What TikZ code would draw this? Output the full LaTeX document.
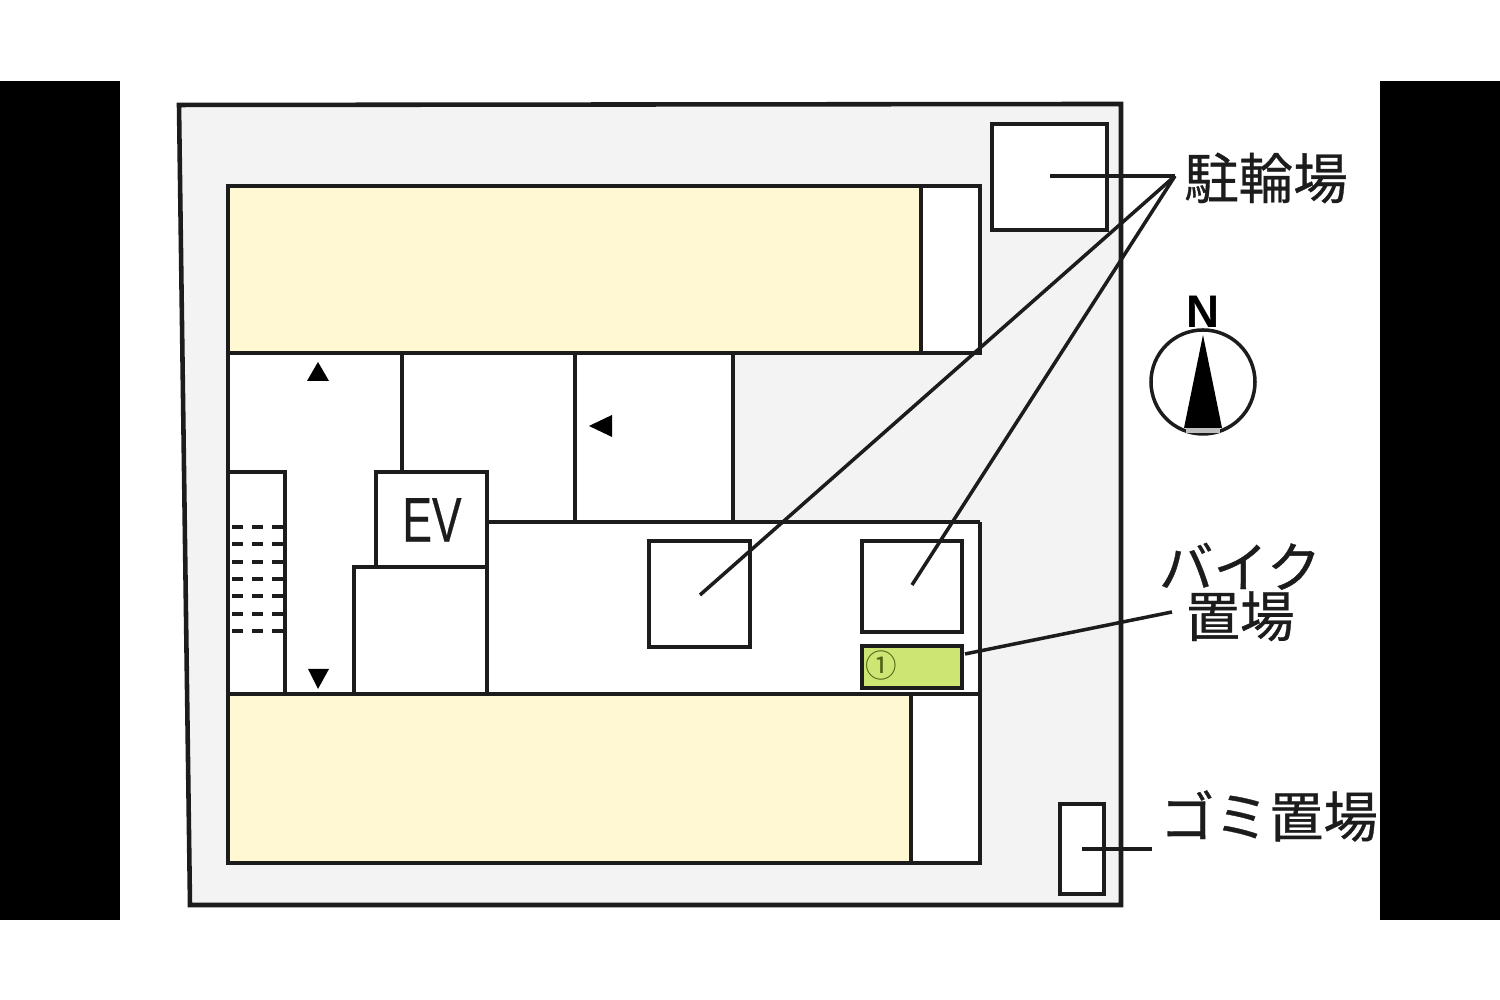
\documentclass[tikz,border=0pt]{standalone}
\usepackage{fontspec}
\setmainfont{Liberation Sans}
\newfontfamily\jpfont[FakeBold=0.6]{Noto Sans CJK JP}
\newfontfamily\thinjp{Noto Sans CJK JP}
\newfontfamily\evfont[FakeBold=0.5]{Liberation Sans}
\definecolor{sitegray}{HTML}{F3F3F3}
\definecolor{flatyellow}{HTML}{FFF8D3}
\definecolor{bikegreen}{HTML}{CDE673}
\definecolor{ringolive}{HTML}{4F5F14}
\definecolor{wallblack}{HTML}{1C1C1C}
\tikzset{
  wall/.style={draw=wallblack, line width=1.3pt},
  leader/.style={draw=wallblack, line width=1pt},
  tread/.style={draw=wallblack, line width=1.05pt, dash pattern=on 3.1pt off 2.6pt},
  jplabel/.style={font=\jpfont\fontsize{15.5}{14}\selectfont, inner sep=0pt, text=wallblack},
}
\begin{document}
\begin{tikzpicture}
\useasboundingbox (0, 0) rectangle (15, 10);
\fill[white] (0, 0) rectangle (15, 10);
\fill[black] (0, 0.8) rectangle (1.2, 9.19);
\fill[black] (13.8, 0.8) rectangle (15, 9.19);

% site
\filldraw[wall, fill=sitegray] (1.79, 8.95) -- (11.21, 8.96) -- (11.21, 0.95) -- (1.9, 0.95) -- cycle;

% flats
\fill[white] (2.28, 8.14) rectangle (9.8, 1.37);
\fill[sitegray] (7.33, 6.47) rectangle (9.8, 4.78);
\filldraw[wall, fill=flatyellow] (2.28, 8.14) rectangle (9.21, 6.47);
\filldraw[wall, fill=flatyellow] (2.28, 3.06) rectangle (9.11, 1.37);
\draw[wall] (2.28, 8.14) rectangle (9.8, 6.47);
\draw[wall] (2.28, 3.06) rectangle (9.8, 1.37);
\draw[wall] (2.28, 6.47) -- (2.28, 3.06);
\draw[wall] (9.8, 4.78) -- (9.8, 3.06);
\draw[wall] (4.87, 4.78) -- (9.8, 4.78);
\draw[wall] (7.33, 6.47) -- (7.33, 4.78);
\draw[wall] (5.75, 6.47) -- (5.75, 4.78);
\draw[wall] (4.02, 6.47) -- (4.02, 5.28);

% stairs, lift
\draw[wall] (2.28, 5.28) rectangle (2.85, 3.06);
\foreach \y in {4.73, 4.56, 4.38, 4.21, 4.04, 3.86, 3.69}
  \draw[tread] (2.32, \y) -- (2.85, \y);
\draw[wall] (3.76, 5.28) rectangle (4.87, 4.33);
\draw[wall] (3.54, 4.33) rectangle (4.87, 3.06);
\node[font=\evfont\fontsize{18}{18}\selectfont, xscale=0.7, text=wallblack] (ev) at (4.32, 4.8) {EV};

% parking
\filldraw[wall, fill=white] (9.92, 8.76) rectangle (11.07, 7.7);
\draw[wall] (6.49, 4.59) rectangle (7.5, 3.53);
\draw[wall] (8.62, 4.59) rectangle (9.62, 3.68);
\filldraw[wall, fill=bikegreen] (8.62, 3.54) rectangle (9.62, 3.12);
\node[font=\thinjp\fontsize{9}{9}\selectfont, text=ringolive, inner sep=0pt] (one) at (8.81, 3.34) {①};
\filldraw[wall, fill=white] (10.6, 1.96) rectangle (11.04, 1.06);

% entrances
\fill[black] (3.07, 6.19) -- (3.29, 6.19) -- (3.18, 6.38) -- cycle;
\fill[black] (6.12, 5.85) -- (6.12, 5.63) -- (5.89, 5.74) -- cycle;
\fill[black] (3.08, 3.31) -- (3.29, 3.31) -- (3.18, 3.11) -- cycle;

% north
\draw[wallblack, line width=1pt, fill=white] (12.03, 6.18) circle (0.52);
\fill[black] (12.03, 6.65) -- (12.22, 5.72) -- (11.84, 5.72) -- cycle;
\fill[lightgray] (11.86, 5.72) rectangle (12.2, 5.67);
\node[font=\bfseries\fontsize{13}{13}\selectfont, inner sep=0pt] (north) at (12.03, 6.88) {N};

% labels
\node[jplabel] (rack) at (12.66, 8.22) {駐輪場};
\node[jplabel, align=center] (bike) at (12.4, 4.08) {バイク\\置場};
\node[jplabel] (trash) at (12.69, 1.84) {ゴミ置場};

\coordinate (hub) at (11.75, 8.24);
\coordinate (rackA) at (10.5, 8.24);
\coordinate (rackB) at (7, 4.05);
\coordinate (rackC) at (9.12, 4.15);
\coordinate (bikeEnd) at (9.65, 3.46);
\coordinate (bikeHub) at (11.72, 3.88);
\coordinate (trashEnd) at (10.82, 1.51);
\coordinate (trashHub) at (11.52, 1.51);

\draw[leader] (rackA) -- (hub);
\draw[leader] (rackB) -- (hub);
\draw[leader] (rackC) -- (hub);
\draw[leader] (bikeEnd) -- (bikeHub);
\draw[leader] (trashEnd) -- (trashHub);
\end{tikzpicture}
\end{document}
